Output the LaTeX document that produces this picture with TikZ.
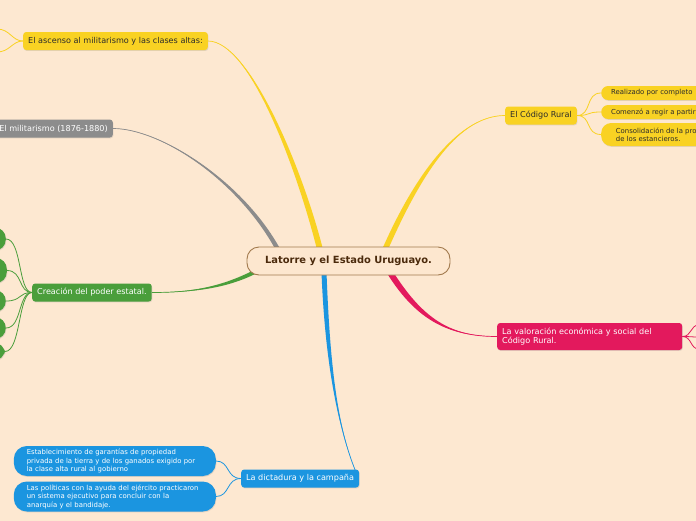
\documentclass[tikz,border=0pt]{standalone}
\usepackage{fontspec}
\setmainfont{DejaVu Sans}
\usetikzlibrary{calc,shadows,backgrounds}
\definecolor{bgc}{HTML}{FDE8D1}
\definecolor{ylw}{HTML}{F9D223}
\definecolor{gry}{HTML}{8C8C8C}
\definecolor{grn}{HTML}{4A9E3B}
\definecolor{pnk}{HTML}{E3195D}
\definecolor{blu}{HTML}{1B95E0}
\definecolor{ctrfill}{HTML}{FDE7CF}
\definecolor{ctrdraw}{HTML}{A27A4E}
\definecolor{ctrtext}{HTML}{4B2A0C}
\definecolor{dark}{HTML}{2B2B2B}
\newcommand\taper[6]{%
  \fill[#6] (#1) .. controls (#2) and ($(#3)+#5$) .. ($(#4)+#5$) -- ($(#4)-#5$) .. controls ($(#3)-#5$) and (#2) .. (#1) -- cycle;
  \draw[#6, line width=0.7pt] (#1) .. controls (#2) and (#3) .. (#4);
}
\tikzset{
  shad/.style={drop shadow={shadow xshift=0.6pt, shadow yshift=-0.9pt, opacity=0.22}},
  mainbox/.style={shad, rounded corners=3pt, minimum height=18pt, inner xsep=5pt, inner ysep=2pt, font=\fontsize{8.1}{9.6}\selectfont},
  ybox/.style={mainbox, fill=ylw, text=dark},
  wbox/.style={mainbox, text=white},
  subpill/.style={shad, fill=ylw, text=dark, rounded corners=7pt, minimum height=14pt, inner xsep=10pt, inner ysep=1pt, font=\fontsize{6.9}{8.4}\selectfont, align=left},
  bpill/.style={shad, fill=blu, text=white, rounded corners=13pt, text width=176pt, inner xsep=13pt, inner ysep=3pt, minimum height=30pt, font=\fontsize{6.9}{8.5}\selectfont, align=left},
  gcirc/.style={shad, fill=grn, rounded corners=11pt, minimum width=40pt, inner sep=0pt},
  thin/.style={line width=0.8pt},
}
\begin{document}
\begin{tikzpicture}[x=1pt,y=-1pt]
\useasboundingbox (0,0) rectangle (696,520);
% nodes
\node[draw=ctrdraw, line width=0.9pt, fill=ctrfill, text=ctrtext, rounded corners=12pt, minimum width=203pt, minimum height=28pt, inner sep=0pt, font=\fontsize{9.9}{11}\selectfont\bfseries] (C) at (348.5,261) {Latorre y el Estado Uruguayo.};
\node[ybox, anchor=west] (asc) at (23,41) {El ascenso al militarismo y las clases altas:};
\node[wbox, fill=gry, anchor=east] (mil) at (113,128.5) {El militarismo (1876-1880)};
\node[wbox, fill=grn, anchor=west] (cre) at (32,292.5) {Creación del poder estatal.};
\node[ybox, anchor=west] (cod) at (505,115.5) {El Código Rural};
\node[wbox, fill=pnk, anchor=west, align=left, minimum height=27pt, text width=175pt] (val) at (497,336.5) {La valoración económica y social del\\Código Rural.};
\node[wbox, fill=blu, anchor=west] (dic) at (241,478.5) {La dictadura y la campaña};
% Codigo Rural children
\node[subpill, anchor=west, minimum width=110pt] (r1) at (601,93) {Realizado por completo\hspace{20pt}};
\node[subpill, anchor=west, minimum width=110pt] (r2) at (601,112) {Comenzó a regir a partir\hspace{20pt}};
\node[subpill, anchor=west, minimum width=110pt, minimum height=23pt, rounded corners=10pt, inner xsep=14pt] (r3) at (601,134.5) {Consolidación de la pro\hspace{20pt}\\de los estancieros.};
% dictadura children
\node[bpill, anchor=east] (b1) at (216,461) {Establecimiento de garantías de propiedad\\privada de la tierra y de los ganados exigido por\\la clase alta rural al gobierno};
\node[bpill, anchor=east] (b2) at (216,496.5) {Las políticas con la ayuda del ejército practicaron\\un sistema ejecutivo para concluir con la\\anarquía y el bandidaje.};
% green circles (cut by left edge)
\node[gcirc, anchor=east, minimum height=23pt] (g1) at (6,239) {};
\node[gcirc, anchor=east, minimum height=25pt] (g2) at (7,270.5) {};
\node[gcirc, anchor=east, minimum height=22pt] (g3) at (6,301) {};
\node[gcirc, anchor=east, minimum height=22pt] (g4) at (6,328) {};
\node[gcirc, anchor=east, minimum height=18pt] (g5) at (5,351.5) {};
% free ends
\coordinate (a1) at (-3,29);
\coordinate (a2) at (-3,52);
\coordinate (p1) at (699,325);
\coordinate (p2) at (699,337);
\coordinate (p3) at (699,349);
\coordinate (cA) at ($(C.north)+(-28.5,3)$);
\coordinate (cB) at ($(C.north)+(-70.5,3)$);
\coordinate (cC) at ($(C.west)+(12,9)$);
\coordinate (cD) at ($(C.north)+(36.5,3)$);
\coordinate (cE) at ($(C.south)+(41.5,-3)$);
\coordinate (cF) at ($(C.south)+(-24.5,-3)$);
\coordinate (dT) at ($(dic.north east)+(-4,1)$);
\begin{pgfonlayer}{background}
\fill[bgc] (-5,-5) rectangle (701,525);
% main tapered branches
\taper{asc.east}{250,41}{300,170}{cA}{(3,0)}{ylw}
\taper{mil.east}{160,128.5}{240,180}{cB}{(2.5,0)}{gry}
\taper{cre.east}{200,292.5}{230,285}{cC}{(0.9,1.8)}{grn}
\taper{cod.west}{460,115.5}{420,170}{cD}{(3,0)}{ylw}
\taper{val.west}{450,336.5}{420,320}{cE}{(2.5,-1.6)}{pnk}
\taper{dT}{335,420}{327,350}{cF}{(2.5,0)}{blu}
% sub branches
\draw[thin, ylw] (asc.west) .. controls (12,41) and (10,29) .. (a1);
\draw[thin, ylw] (asc.west) .. controls (12,41) and (10,52) .. (a2);
\foreach \g in {g1,g2,g3,g4,g5}
  \draw[thin, grn] (cre.west) .. controls (18,292.5) and ($(\g.east)+(16,0)$) .. (\g.east);
\foreach \r in {r1,r2,r3}
  \draw[thin, ylw] (cod.east) .. controls (592,115.5) and ($(\r.west)+(-16,0)$) .. (\r.west);
\foreach \p in {p1,p2,p3}
  \draw[thin, pnk] (val.east) .. controls (692,336.5) and ($(\p)+(-9,0)$) .. (\p);
\foreach \b in {b1,b2}
  \draw[thin, blu] (dic.west) .. controls (226,478.5) and ($(\b.east)+(14,0)$) .. (\b.east);
\end{pgfonlayer}
\end{tikzpicture}
\end{document}
